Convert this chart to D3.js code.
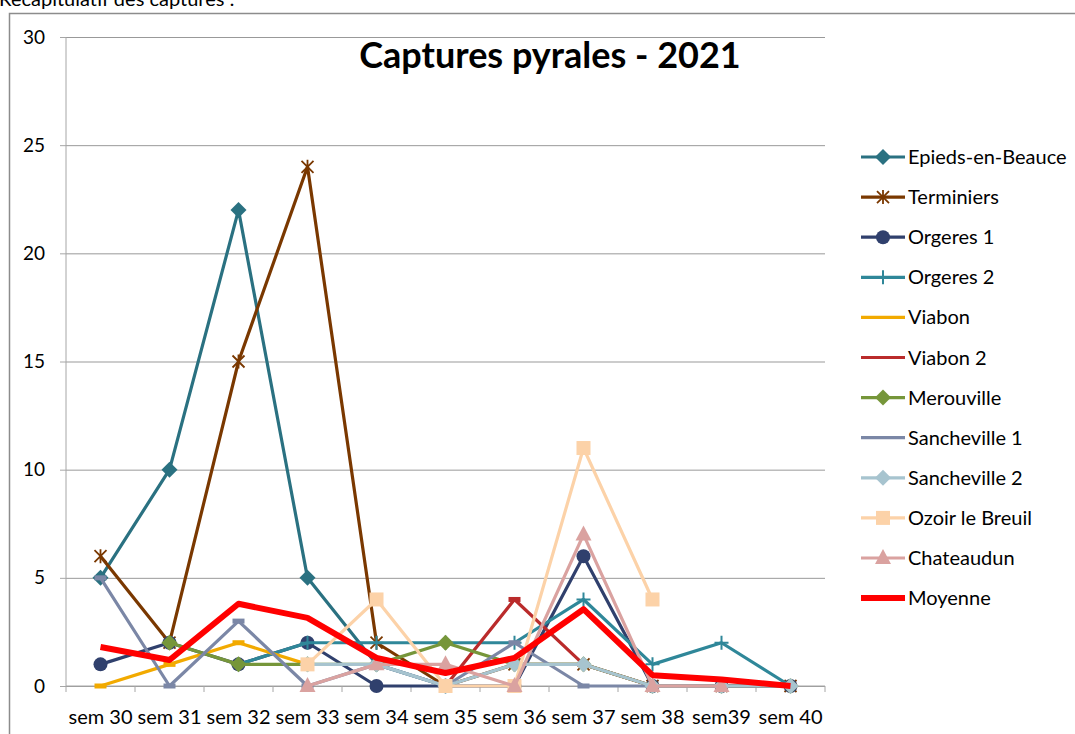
<!DOCTYPE html>
<html><head><meta charset="utf-8">
<script src="https://cdn.jsdelivr.net/npm/d3@7"></script>
<style>
html,body{margin:0;padding:0;background:#fff;}
svg{display:block;font-family:Lato,"Open Sans",sans-serif;}
</style></head>
<body>
<script>
const categories = ["sem 30","sem 31","sem 32","sem 33","sem 34","sem 35","sem 36","sem 37","sem 38","sem39","sem 40"];
const yTicks = [0,5,10,15,20,25,30];
const epieds     = [5,10,22,5,1,0,null,null,null,null,null];
const terminiers = [6,2,15,24,2,0,1,1,0,0,0];
const orgeres1   = [1,2,1,2,0,0,0,6,0,0,0];
const orgeres2   = [null,null,1,2,2,2,2,4,1,2,0];
const viabon     = [0,1,2,1,null,null,null,null,null,null,null];
const viabon2    = [null,null,null,null,null,0,4,1,0,0,0];
const merouville = [null,2,1,1,1,2,1,1,0,0,0];
const sancheville1 = [5,0,3,0,1,0,2,0,0,0,0];
const sancheville2 = [null,null,null,1,1,0,1,1,0,0,0];
const ozoir      = [null,null,null,1,4,0,0,11,4,null,null];
const chateaudun = [null,null,null,0,1,1,0,7,0,0,null];
const moyenne    = [1.8,1.2,3.8,3.15,1.3,0.6,1.3,3.55,0.5,0.3,0];

const seriesNames = ["Epieds-en-Beauce","Terminiers","Orgeres 1","Orgeres 2","Viabon","Viabon 2","Merouville","Sancheville 1","Sancheville 2","Ozoir le Breuil","Chateaudun","Moyenne"];
const seriesValues = [epieds,terminiers,orgeres1,orgeres2,viabon,viabon2,merouville,sancheville1,sancheville2,ozoir,chateaudun,moyenne];
const seriesColors = ["#2A7181","#7A3800","#30406D","#2F8799","#F2AA00","#BA2B2B","#76963A","#7B87A6","#A7C4CF","#FCD2A8","#DAA2A0","#FF0000"];
const seriesMarkers = ["diamond","star","circle","plus","dash","dash","diamond","dash","diamond","square","triangle","none"];
const seriesWidths = [3.2,3.2,3.2,3.2,3.2,3.2,3.2,3.2,3.2,3.2,3.2,6];

const W = 1075, H = 734;
const svg = d3.select("body").append("svg").attr("width",W).attr("height",H);

// partially visible heading and chart frame
svg.append("text").attr("x",-1).attr("y",6).attr("font-size",20).attr("fill","#000")
  .text("Récapitulatif des captures :");
svg.append("rect").attr("x",9.5).attr("y",13.5).attr("width",1100).attr("height",800)
  .attr("fill","none").attr("stroke","#8c8c8c").attr("stroke-width",1.5);

const x = d3.scaleBand().domain(categories).range([66,825]).padding(0);
const y = d3.scaleLinear().domain([0,30]).range([686,37]);
const cx = c => x(c) + x.bandwidth()/2;

// gridlines
svg.append("g").attr("transform","translate(66,0)")
  .call(d3.axisLeft(y).tickValues(yTicks).tickSize(-759).tickFormat(""))
  .call(g=>g.select(".domain").remove())
  .call(g=>g.selectAll("line").attr("stroke","#999").attr("stroke-width",1));

// y axis
const ya = svg.append("g").attr("transform","translate(66,0)")
  .call(d3.axisLeft(y).tickValues(yTicks).tickSize(6).tickPadding(15));
ya.select(".domain").attr("stroke","#a6a6a6").attr("d","M0,37V686");
ya.selectAll("line").attr("stroke","#a6a6a6");
ya.selectAll("text").attr("font-size",19).attr("fill","#000").attr("font-family","Lato");

// x axis
const xa = svg.append("g").attr("transform","translate(0,686)")
  .call(d3.axisBottom(x).tickSize(0).tickPadding(24));
xa.select(".domain").attr("stroke","#a6a6a6").attr("d","M66,0H825");
xa.selectAll("text").attr("font-size",20).attr("fill","#000").attr("font-family","Lato");
const bounds = categories.map(c=>x(c)).concat([x(categories[categories.length-1])+x.bandwidth()]);
xa.selectAll(".bt").data(bounds).enter().append("line")
  .attr("x1",d=>d).attr("x2",d=>d).attr("y1",0).attr("y2",6).attr("stroke","#a6a6a6");

// title
svg.append("text").attr("x",550).attr("y",68).attr("text-anchor","middle")
  .attr("font-size",36).attr("font-weight","bold").attr("fill","#000").text("Captures pyrales - 2021");

function drawMarker(g, type, color, px, py) {
  if (type==="diamond") {
    g.append("path").attr("d",`M${px},${py-8}L${px+8},${py}L${px},${py+8}L${px-8},${py}Z`).attr("fill",color);
  } else if (type==="circle") {
    g.append("circle").attr("cx",px).attr("cy",py).attr("r",7).attr("fill",color);
  } else if (type==="square") {
    g.append("rect").attr("x",px-7).attr("y",py-7).attr("width",14).attr("height",14).attr("fill",color);
  } else if (type==="triangle") {
    g.append("path").attr("d",`M${px},${py-9}L${px+8},${py+6}L${px-8},${py+6}Z`).attr("fill",color);
  } else if (type==="plus") {
    g.append("path").attr("d",`M${px-7},${py}H${px+7}M${px},${py-7}V${py+7}`).attr("stroke",color).attr("stroke-width",2);
  } else if (type==="star") {
    g.append("path").attr("d",`M${px-6},${py-6}L${px+6},${py+6}M${px-6},${py+6}L${px+6},${py-6}M${px},${py-7}V${py+7}`).attr("stroke",color).attr("stroke-width",1.8);
  } else if (type==="dash") {
    g.append("rect").attr("x",px-6).attr("y",py-2.5).attr("width",12).attr("height",5).attr("fill",color);
  }
}

const line = d3.line().defined(d=>d.v!==null).x(d=>cx(d.c)).y(d=>y(d.v));
seriesNames.forEach((name,i)=>{
  const data = categories.map((c,j)=>({c, v: seriesValues[i][j]}));
  const g = svg.append("g");
  g.append("path").datum(data).attr("d",line).attr("fill","none")
    .attr("stroke",seriesColors[i]).attr("stroke-width",seriesWidths[i]).attr("stroke-linejoin","round");
  data.filter(d=>d.v!==null).forEach(d=>drawMarker(g, seriesMarkers[i], seriesColors[i], cx(d.c), y(d.v)));
});

// legend
const lg = svg.append("g");
seriesNames.forEach((name,i)=>{
  const ly = 157 + i*40.1;
  lg.append("line").attr("x1",861).attr("x2",905).attr("y1",ly).attr("y2",ly)
    .attr("stroke",seriesColors[i]).attr("stroke-width",seriesWidths[i]);
  if (seriesMarkers[i]!=="dash") drawMarker(lg, seriesMarkers[i], seriesColors[i], 883, ly);
  lg.append("text").attr("x",908).attr("y",ly).attr("dy","0.35em").attr("font-size",20)
    .attr("fill","#000").text(name);
});
</script>
</body></html>
